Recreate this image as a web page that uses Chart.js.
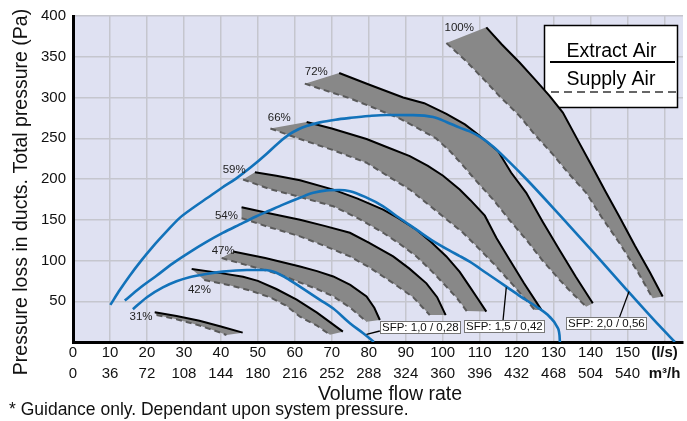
<!DOCTYPE html>
<html><head><meta charset="utf-8">
<script src="https://cdn.jsdelivr.net/npm/chart.js@4.4.1/dist/chart.umd.min.js"></script>
<style>html,body{margin:0;padding:0;background:#fff;overflow:hidden}#wrap{width:687px;height:421px;position:relative}</style>
</head><body><div id="wrap"><canvas id="c" width="687" height="421"></canvas></div>
<script>
// ---- tick labels ----
const flowLs   = [0,10,20,30,40,50,60,70,80,90,100,110,120,130,140,150];
const flowM3h  = [0,36,72,108,144,180,216,252,288,324,360,396,432,468,504,540];
const unitLs = '(l/s)', unitM3h = 'm³/h', unitTick = 160;
const pressureTicks = [50,100,150,200,250,300,350,400];

// ---- fan speed curves (l/s, Pa) ----
const fanSpeeds = ['31%','42%','47%','54%','59%','66%','72%','100%'];
const extract31 = [[22.1,36.5],[28,32],[34.2,26],[40,19],[45.9,11.5]];
const supply31  = [[22.6,33.2],[28,28],[34,20.5],[39.6,12],[41.5,8.6]];
const extract42 = [[32.1,89.5],[40,84.5],[46,80],[50,75],[55,65],[60.5,52],[66,36],[73,12.7]];
const supply42  = [[35.5,76],[42,70],[48,63],[53.2,55],[57.5,45],[61.4,31],[66,20],[69.5,9]];
const extract47 = [[43.3,111],[52,103],[61.4,92.7],[66,87],[70.4,80.4],[75,70],[79.4,55.8],[81.5,42],[83,27]];
const supply47  = [[40.2,103],[48,93],[55.9,83],[61.4,73],[66,65],[70.4,56],[75,42],[79.4,25]];
const extract54 = [[45.6,165.3],[53,158],[61.4,150],[68,142.5],[74.9,134],[80,122],[86.6,105],[91,90],[95.6,72],[98.5,55],[100.8,33]];
const supply54  = [[45.6,152],[53,141],[61.4,129.6],[68,118],[74.9,105],[80,92],[86.6,72.2],[92,55],[96.5,33]];
const extract59 = [[49.2,208.4],[55,204],[61.4,198.5],[70.4,187],[77,176],[83.9,162.5],[88,152],[92.9,137.8],[97,122],[101,105],[104.6,86],[107.3,68],[109.5,53],[111.8,37.3]];
const supply59  = [[46,199.4],[53,188],[61.4,178],[70.4,166.5],[77,152],[83.9,134],[88.5,120],[92.9,105],[97,87],[101,68],[104,53],[106.5,38]];
const extract66 = [[63.2,270],[70,262],[79.4,249],[85,239],[91.1,228],[96,216],[100.1,204],[104.6,187],[107.5,174],[111.4,155],[114.5,128],[118.1,101],[122,72],[126.7,39.4]];
const supply66  = [[53.4,262],[61.4,249],[70,236],[79.4,220],[85,204],[91.1,187],[96,169],[100.1,154],[105.5,134],[109.5,116],[113.6,97],[119,70],[124.9,39.4]];
const extract72 = [[72,330],[80,316],[89.3,300],[95,293],[101,280],[106,267],[110,253],[115,234],[118.5,208],[122.6,183],[127,148],[131.6,113],[136,80],[140.6,47.6]];
const supply72  = [[62.7,317],[68,309],[74.9,299],[81,288],[88.4,274],[93,263],[98.3,249.5],[102,234],[105,219],[109,198],[113.6,175],[118,150],[122.6,125.5],[127,100],[131.6,76.3],[135,60],[138.8,43.4]];
const extract100 = [[111.8,386.1],[116,365],[120.8,343],[125,322],[128.9,302],[132.5,281.5],[136.5,248],[140.6,213.7],[144,185],[147.8,153.8],[152,118],[156,86],[159.5,55.8]];
const supply100  = [[101,366.8],[106,346],[110.9,323.3],[115.5,301],[120.8,277.3],[125,254],[129.8,230.2],[134,207],[138.8,183],[143,153],[147.8,121.5],[152.5,88],[156.8,53.8]];

// ---- SFP system curves ----
const sfpLabels = ['SFP: 1,0 / 0,28','SFP: 1,5 / 0,42','SFP: 2,0 / 0,56'];
const sfp10 = [[16.2,40.2],[20,55],[24.3,67],[28,74.5],[31.5,79.5],[36,83.5],[40.5,86.3],[47,88.3],[52,88.4],[55,85],[58.6,76],[62,66],[66.8,51.7],[70.4,41],[74.9,23],[78.5,10.7],[81.4,0]];
const sfp15 = [[14,50.8],[18,66],[22.5,81],[27,96.5],[31.5,110],[36,122.5],[40.5,133.8],[45,144],[49.5,154],[53,161],[56.8,168.6],[61.4,177],[65,183],[68.6,186],[72,186.5],[74.9,185],[79,178],[83.9,166.5],[88,153],[92.9,137.8],[97,125],[101.9,112],[104.6,105.5],[107.3,98.5],[112,84],[117.2,68],[121,56],[125.3,43.5],[128.9,31],[130.9,19],[131.6,8],[131.7,0]];
const sfp20 = [[10.1,45.5],[12.7,64],[15.3,81],[18.4,99.5],[21.6,117],[25.2,135],[28.8,152],[32.6,165],[36.4,177],[40.2,189],[44.1,200.5],[48,214],[52.4,231],[55.5,244],[58.6,255],[61,261],[63.2,265],[66.8,269.5],[71,272.8],[75,275],[80,277.3],[84.8,278.6],[92,278.4],[97.4,276],[101,270],[104.6,263],[107.3,258.5],[110,252],[113.6,240],[118,221],[122.6,200],[131.6,156],[140.6,111],[149.6,65],[158.6,20],[162.8,0]];

// ---- annotation anchors (data coords) ----
const pctAnchor = [[15.3,30.8],[31.1,64.6],[37.5,112],[38.4,155],[40.5,211.7],[52.7,275],[62.7,331],[100.5,385.2]];
const sfpBoxAt  = [[83,17.8],[105.7,18.5],[133.4,22.4]];
const sfpFrom   = [[83,13.5],[116.3,25.8],[147.8,29.9]];
const sfpTo     = [[79.4,9.5],[117.2,67],[150.4,62]];

const FONT = "'Liberation Sans', Arial, Helvetica, sans-serif";
const pts = a => a.map(p => ({x:p[0], y:p[1]}));
const bands = [[extract31,supply31],[extract42,supply42],[extract47,supply47],[extract54,supply54],[extract59,supply59],[extract66,supply66],[extract72,supply72],[extract100,supply100]];

const datasets = [];
[sfp10, sfp15, sfp20].forEach((s,i) => datasets.push({label:sfpLabels[i], data:pts(s), showLine:true, borderColor:'#1272ba', borderWidth:2.6, pointRadius:0, tension:0.3, cubicInterpolationMode:'monotone', order:0}));
bands.forEach((b,i) => {
  datasets.push({label:'Extract '+fanSpeeds[i], data:pts(b[0]), showLine:true, borderColor:'#000', borderWidth:2, pointRadius:0, tension:0, order:1});
  datasets.push({label:'Supply '+fanSpeeds[i], data:pts(b[1]), showLine:true, borderColor:'#5a5a5a', borderWidth:2, borderDash:[6,4], pointRadius:0, tension:0, order:2});
  datasets.push({label:'Band '+fanSpeeds[i], data:pts(b[0].concat(b[1].slice().reverse())), showLine:true, borderWidth:0, borderColor:'rgba(0,0,0,0)', backgroundColor:'#888888', fill:'shape', pointRadius:0, tension:0, order:3});
});

const overlay = {
  id:'overlay',
  beforeDraw(chart){
    const {ctx, chartArea:a} = chart;
    ctx.save(); ctx.fillStyle = '#dfe1f2';
    ctx.fillRect(a.left, a.top, a.right-a.left, a.bottom-a.top); ctx.restore();
  },
  beforeDatasetsDraw(chart){
    const {ctx, chartArea:a} = chart;
    const L = a.right - 139, T = a.top + 9, W = 134, H = 83;
    ctx.save();
    ctx.fillStyle = '#fff'; ctx.fillRect(L, T, W, H);
    ctx.strokeStyle = '#000'; ctx.lineWidth = 1.5; ctx.strokeRect(L+0.5, T+0.5, W-1, H-1);
    ctx.fillStyle = '#000'; ctx.font = '19.5px ' + FONT; ctx.textAlign = 'center'; ctx.textBaseline = 'middle';
    ctx.fillText('Extract Air', L + 67.5, T + 27);
    ctx.fillText('Supply Air', L + 67, T + 55);
    ctx.beginPath(); ctx.lineWidth = 2; ctx.moveTo(L+6, T+37); ctx.lineTo(L+131, T+37); ctx.stroke();
    ctx.beginPath(); ctx.strokeStyle = '#666'; ctx.setLineDash([8,5]); ctx.moveTo(L+7, T+67); ctx.lineTo(L+133, T+67); ctx.stroke();
    ctx.restore();
  },
  afterDatasetsDraw(chart){
    const {ctx} = chart; const xs = chart.scales.x, ys = chart.scales.y;
    ctx.save();
    ctx.font = '11.5px ' + FONT; ctx.fillStyle = '#222'; ctx.textAlign = 'left'; ctx.textBaseline = 'middle';
    fanSpeeds.forEach((t,i) => ctx.fillText(t, xs.getPixelForValue(pctAnchor[i][0]), ys.getPixelForValue(pctAnchor[i][1])));
    sfpLabels.forEach((t,i) => {
      ctx.beginPath(); ctx.strokeStyle = '#000'; ctx.lineWidth = 1.3;
      ctx.moveTo(xs.getPixelForValue(sfpFrom[i][0]), ys.getPixelForValue(sfpFrom[i][1]));
      ctx.lineTo(xs.getPixelForValue(sfpTo[i][0]), ys.getPixelForValue(sfpTo[i][1])); ctx.stroke();
      const bx = Math.round(xs.getPixelForValue(sfpBoxAt[i][0])), by = ys.getPixelForValue(sfpBoxAt[i][1]);
      const tw = ctx.measureText(t).width, bw = Math.round(tw + 4), bh = 13, top = Math.round(by - bh/2);
      ctx.fillStyle = '#fff'; ctx.fillRect(bx, top, bw, bh);
      ctx.strokeStyle = '#777'; ctx.lineWidth = 1; ctx.strokeRect(bx+0.5, top+0.5, bw-1, bh-1);
      ctx.fillStyle = '#111'; ctx.fillText(t, bx + 2, top + bh/2 + 0.5);
    });
    ctx.restore();
  },
  afterDraw(chart){
    const {ctx} = chart;
    ctx.save(); ctx.fillStyle = '#111'; ctx.textBaseline = 'middle';
    ctx.font = '19.5px ' + FONT; ctx.textAlign = 'center';
    ctx.fillText('Volume flow rate', 390, 395);
    ctx.save(); ctx.translate(22, 192); ctx.rotate(-Math.PI/2);
    ctx.fillText('Pressure loss in ducts. Total pressure (Pa)', 0, 0); ctx.restore();
    ctx.font = '17.5px ' + FONT; ctx.textAlign = 'left';
    ctx.fillText('* Guidance only. Dependant upon system pressure.', 9, 410);
    ctx.restore();
  }
};

new Chart(document.getElementById('c'), {
  type:'scatter',
  data:{datasets},
  plugins:[overlay],
  options:{
    responsive:false, animation:false, devicePixelRatio:1,
    layout:{padding:{left:0, right:4, top:16, bottom:0}},
    plugins:{legend:{display:false}, tooltip:{enabled:false}},
    scales:{
      x:{type:'linear', min:0, max:165,
        afterBuildTicks: s => { s.ticks = flowLs.concat([unitTick]).map(v => ({value:v})); },
        afterFit: s => { s.height = 79; },
        ticks:{autoSkip:false, maxRotation:0, padding:1, color:'#111',
          font: c => ({family:FONT, size:15, lineHeight:1.35, weight: (c.index === flowLs.length) ? 'bold' : 'normal'}),
          callback: (v, i) => i < flowLs.length ? [String(flowLs[i]), String(flowM3h[i])] : [unitLs, unitM3h]},
        grid:{color:'#c5c6ce', lineWidth:1.5, drawTicks:false},
        border:{color:'#000', width:3}},
      y:{type:'linear', min:0, max:400,
        afterBuildTicks: s => { s.ticks = [0].concat(pressureTicks).map(v => ({value:v})); },
        afterFit: s => { s.width = 73; },
        ticks:{padding:7, color:'#111', font:{family:FONT, size:15}, callback: v => v === 0 ? '' : String(v)},
        grid:{color:'#c5c6ce', lineWidth:1.5, drawTicks:false},
        border:{color:'#000', width:3}}
    }
  }
});
</script></body></html>
